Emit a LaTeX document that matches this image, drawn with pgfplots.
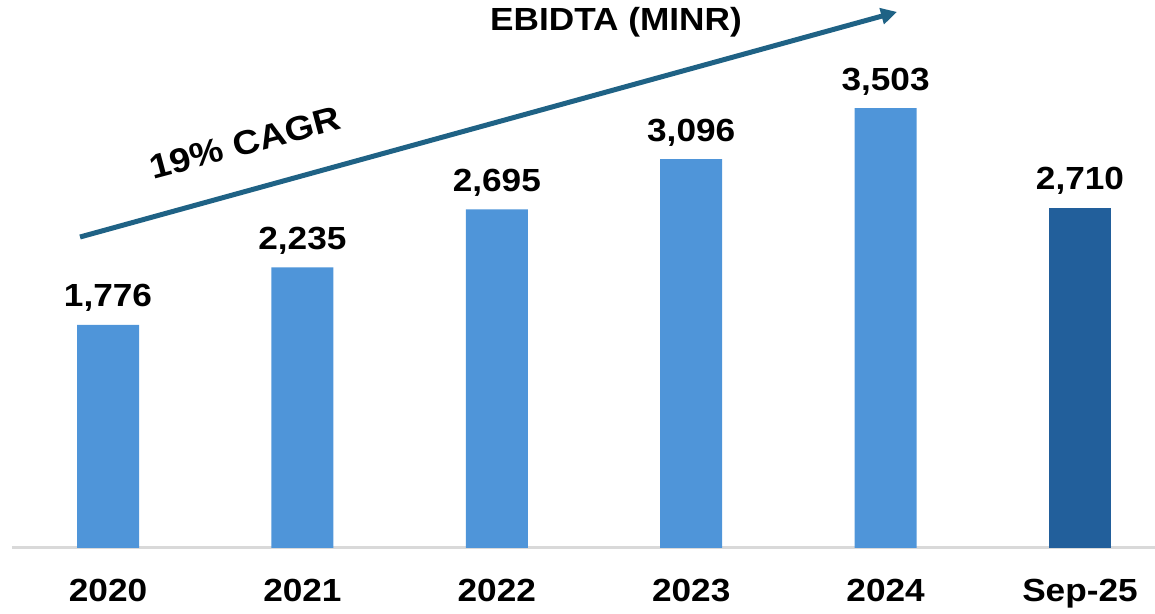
\documentclass[border=0pt]{standalone}
\usepackage{fontspec}
\setmainfont{Liberation Sans}
\newfontfamily\lab{Liberation Sans}[FakeStretch=1.1]
\usepackage{pgfplots}
\pgfplotsset{compat=1.18}
\usetikzlibrary{arrows.meta}
\definecolor{barlight}{HTML}{4F95D9}
\definecolor{bardark}{HTML}{225F9B}
\definecolor{arrowc}{HTML}{1F6285}
\definecolor{axisgray}{HTML}{D9D9D9}
\begin{document}
\begin{tikzpicture}
\useasboundingbox (0,0) rectangle (577.5pt,307pt);
\begin{axis}[
  at={(6pt,33pt)}, anchor=south west,
  scale only axis, width=571.5pt, height=274pt,
  xmin=-0.494, xmax=5.386, ymin=0, ymax=4363,
  axis y line=none, axis x line*=bottom,
  x axis line style={draw=axisgray, line width=1.5pt, -},
  xtick={0,1,2,3,4,5},
  xticklabels={2020,2021,2022,2023,2024,Sep-25},
  major tick length=0,
  xticklabel style={font=\lab\bfseries\fontsize{16}{16}\selectfont, yshift=-12pt},
  ybar, bar width=31pt,
  nodes near coords, point meta=explicit symbolic,
  every node near coord/.append style={font=\lab\bfseries\fontsize{16}{16}\selectfont, anchor=base, yshift=9pt},
  clip=false,
]
\addplot[fill=barlight, draw=none, bar shift=0pt] coordinates {
  (0,1776) [1,776]
  (1,2235) [2,235]
  (2,2695) [2,695]
  (3,3096) [3,096]
  (4,3503) [3,503]
};
\addplot[fill=bardark, draw=none, bar shift=0pt] coordinates {
  (5,2710) [2,710]
};
\draw[arrowc, line width=2.5pt, -{Triangle[length=8pt,width=8pt]}] (axis cs:-0.144,2476) -- (axis cs:4.059,4268);
\node[rotate=15, font=\lab\bfseries\fontsize{17}{17}\selectfont] at (axis cs:0.705,3225) {19\% CAGR};
\node[font=\lab\bfseries\fontsize{16}{16}\selectfont] at (axis cs:2.613,4188) {EBIDTA (MINR)};
\end{axis}
\end{tikzpicture}
\end{document}
